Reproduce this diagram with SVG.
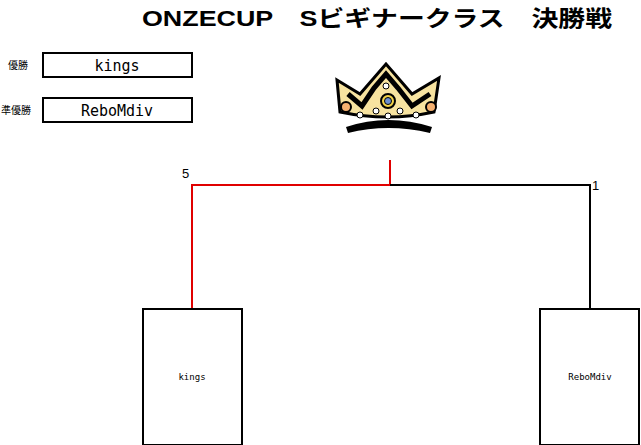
<svg xmlns="http://www.w3.org/2000/svg" width="641" height="445" viewBox="0 0 641 445">
<style>
text{font-family:"Liberation Sans","Noto Sans CJK JP",sans-serif;fill:#000}
.box{fill:#fff;stroke:#000;stroke-width:2}
.t{font-size:15px;text-anchor:middle;font-family:"DejaVu Sans Mono",monospace}
.s{font-size:10px}
.n{font-size:9px;text-anchor:middle;font-family:"DejaVu Sans Mono",monospace}
</style>
<rect width="641" height="445" fill="#fff"/>
<text x="142" y="26" font-size="22" font-weight="bold" font-family="Noto Sans CJK JP, sans-serif" textLength="470" lengthAdjust="spacingAndGlyphs">ONZECUP　Sビギナークラス　決勝戦</text>
<g id="winner"><text class="s" x="8" y="69">優勝</text><rect class="box" x="43" y="53" width="149" height="24"/><text class="t" x="117" y="71">kings</text></g>
<g id="runnerup"><text class="s" x="1" y="114">準優勝</text><rect class="box" x="43" y="98" width="149" height="24"/><text class="t" x="117" y="116">ReboMdiv</text></g>
<g id="crown">
<path d="M340 112 L337 80 L360 94 L386 64 L412 94 L439 78 L434 112 Q388 122 340 112Z" fill="#f7e3a0" stroke="#000" stroke-width="3"/>
<path d="M346 127 Q388 113 432 127 L430 133 Q388 123 348 133Z" fill="#000"/>
<path d="M348 94 L362 106 L374 88 L386 74 L398 88 L412 106 L430 94" fill="none" stroke="#000" stroke-width="5"/>
<circle cx="388" cy="101" r="7" fill="#f2d34a" stroke="#000" stroke-width="2"/>
<circle cx="388" cy="101" r="3.5" fill="#6c8fd0" stroke="#000"/>
<circle cx="346" cy="107" r="5" fill="#f5b070" stroke="#000" stroke-width="2"/>
<circle cx="431" cy="107" r="5" fill="#f5b070" stroke="#000" stroke-width="2"/>
<circle cx="386" cy="86" r="3" fill="#fff" stroke="#000"/>
<circle cx="376" cy="111" r="3" fill="#fff" stroke="#000"/>
<circle cx="400" cy="111" r="3" fill="#fff" stroke="#000"/>
<circle cx="388" cy="116" r="3" fill="#fff" stroke="#000"/>
<circle cx="360" cy="115" r="3" fill="#fff" stroke="#000"/>
<circle cx="416" cy="115" r="3" fill="#fff" stroke="#000"/>
</g>
<g id="connectors" fill="none" stroke-width="2">
<path d="M192 308 V185 H390 V160" stroke="#e00000"/>
<path d="M390 185 H590 V308" stroke="#000"/>
</g>
<text x="182" y="178" font-size="13">5</text>
<text x="592" y="190" font-size="13">1</text>
<g id="kings"><rect class="box" x="143" y="309" width="99" height="136"/><text class="n" x="192" y="380">kings</text></g>
<g id="rebo"><rect class="box" x="540" y="309" width="99" height="136"/><text class="n" x="590" y="380">ReboMdiv</text></g>
</svg>
